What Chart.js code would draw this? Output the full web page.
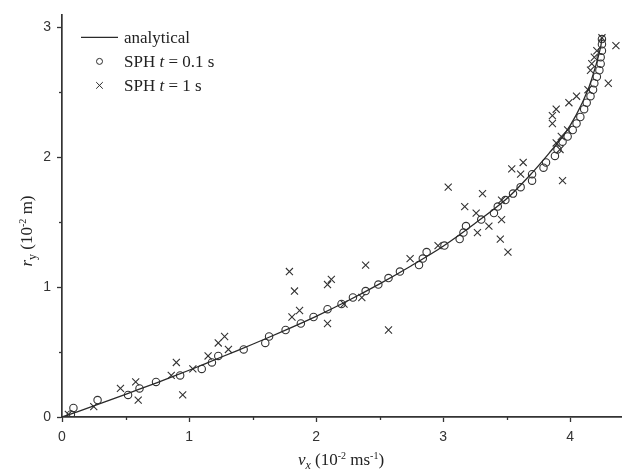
<!DOCTYPE html>
<html><head><meta charset="utf-8">
<script src="https://cdn.jsdelivr.net/npm/chart.js@4.4.0/dist/chart.umd.min.js"></script>
<style>
html,body{margin:0;padding:0;background:#fff;}
#wrap{position:relative;width:629px;height:470px;}
#c{position:absolute;left:0;top:0;}
.t{position:absolute;font-family:"Liberation Serif","Times New Roman",serif;font-size:17px;color:#222;white-space:nowrap;text-align:center;line-height:22px;}
.t sup,.t sub{font-size:10px;position:relative;vertical-align:baseline;line-height:0;}
.t sup{top:-0.65em;}
.t sub{top:0.35em;font-size:12px;}
#xt{left:191px;width:300px;top:449px;}
#yt{left:-33px;width:120px;top:220px;transform:rotate(-90deg);transform-origin:50% 50%;}
</style>
</head><body>
<div id="wrap">
<canvas id="c" width="629" height="470"></canvas>
<div class="t" id="xt"><i>v<sub>x</sub></i> (10<sup>-2</sup> ms<sup>-1</sup>)</div>
<div class="t" id="yt"><i>r</i><sub>y</sub> (10<sup>-2</sup> m)</div>
</div>
<script>
// Analytical curve
const analyticX = [0, 0.25, 0.5, 0.75, 1.0, 1.25, 1.5, 1.75, 2.0, 2.25, 2.5, 2.75, 3.0, 3.25, 3.5, 3.7, 3.85, 3.95, 4.05, 4.14, 4.2, 4.24, 4.25];
const analyticY = [0, 0.085, 0.175, 0.265, 0.36, 0.46, 0.56, 0.665, 0.775, 0.895, 1.025, 1.165, 1.315, 1.49, 1.68, 1.88, 2.05, 2.17, 2.33, 2.52, 2.7, 2.85, 2.92];

// SPH t = 0.1 s (circles)
const sph01X = [0.07,0.09,0.28,0.52,0.61,0.74,0.93,1.10,1.18,1.23,1.43,1.60,1.63,1.76,1.88,1.98,2.09,2.20,2.29,2.39,2.49,2.57,2.66,2.81,2.84,2.87,3.01,3.13,3.16,3.18,3.30,3.40,3.43,3.49,3.55,3.61,3.70,3.70,3.79,3.81,3.88,3.90,3.94,3.98,4.02,4.05,4.08,4.11,4.13,4.16,4.18,4.19,4.21,4.23,4.24,4.24,4.25,4.25,4.25];
const sph01Y = [0.02,0.07,0.13,0.17,0.22,0.27,0.32,0.37,0.42,0.47,0.52,0.57,0.62,0.67,0.72,0.77,0.83,0.87,0.92,0.97,1.02,1.07,1.12,1.17,1.22,1.27,1.32,1.37,1.42,1.47,1.52,1.57,1.62,1.67,1.72,1.77,1.82,1.87,1.92,1.96,2.01,2.06,2.12,2.16,2.21,2.26,2.31,2.37,2.42,2.47,2.52,2.57,2.62,2.67,2.72,2.77,2.82,2.87,2.91];

// SPH t = 1 s (crosses)
const sph1X = [0.05,0.25,0.46,0.58,0.60,0.86,0.90,0.95,1.03,1.15,1.23,1.28,1.31,1.79,1.81,1.83,1.87,2.09,2.09,2.12,2.22,2.36,2.39,2.57,2.74,2.96,3.04,3.17,3.26,3.27,3.31,3.36,3.45,3.46,3.46,3.51,3.54,3.61,3.63,3.86,3.86,3.89,3.89,3.92,3.93,3.94,3.98,3.99,4.05,4.14,4.16,4.17,4.19,4.21,4.25,4.30,4.36];
const sph1Y = [0.02,0.08,0.22,0.27,0.13,0.32,0.42,0.17,0.37,0.47,0.57,0.62,0.52,1.12,0.77,0.97,0.82,0.72,1.02,1.06,0.87,0.92,1.17,0.67,1.22,1.32,1.77,1.62,1.57,1.42,1.72,1.47,1.37,1.52,1.67,1.27,1.91,1.87,1.96,2.26,2.32,2.37,2.11,2.06,2.16,1.82,2.21,2.42,2.47,2.52,2.67,2.72,2.77,2.82,2.92,2.57,2.86];

const legendLabels = ["analytical", ["SPH ", "t", " = 0.1 s"], ["SPH ", "t", " = 1 s"]];

const zip = (xs, ys) => xs.map((x, i) => ({x: x, y: ys[i]}));
const INK = '#2a2a2a';

const minorTicks = {
  id: 'minorTicks',
  afterDraw(chart) {
    const ctx = chart.ctx, xs = chart.scales.x, ys = chart.scales.y, ca = chart.chartArea;
    ctx.save();
    ctx.strokeStyle = '#333';
    ctx.lineWidth = 1.3;
    xs.ticks.forEach(t => {
      if (!Number.isInteger(t.value)) {
        const p = Math.round(xs.getPixelForValue(t.value)) + 0.5;
        ctx.beginPath(); ctx.moveTo(p, ca.bottom); ctx.lineTo(p, ca.bottom + 3); ctx.stroke();
      }
    });
    ys.ticks.forEach(t => {
      if (!Number.isInteger(t.value)) {
        const p = Math.round(ys.getPixelForValue(t.value)) + 0.5;
        ctx.beginPath(); ctx.moveTo(ca.left - 3, p); ctx.lineTo(ca.left, p); ctx.stroke();
      }
    });
    // legend
    const lx = ca.left + 19, tx = ca.left + 62;
    const rows = [ca.top + 29, ca.top + 53, ca.top + 77];
    ctx.strokeStyle = INK; ctx.lineWidth = 1.2;
    ctx.beginPath(); ctx.moveTo(lx, rows[0] - 6); ctx.lineTo(lx + 37, rows[0] - 6); ctx.stroke();
    ctx.lineWidth = 1;
    ctx.beginPath(); ctx.arc(lx + 18.5, rows[1] - 6, 3, 0, Math.PI * 2); ctx.stroke();
    const cx = lx + 18.5, cy = rows[2] - 6, h = 3.3;
    ctx.beginPath(); ctx.moveTo(cx - h, cy - h); ctx.lineTo(cx + h, cy + h);
    ctx.moveTo(cx + h, cy - h); ctx.lineTo(cx - h, cy + h); ctx.stroke();
    ctx.fillStyle = '#222';
    ctx.textBaseline = 'alphabetic';
    const normal = '17px "Liberation Serif", serif', ital = 'italic 17px "Liberation Serif", serif';
    legendLabels.forEach((lab, i) => {
      let x = tx;
      const parts = Array.isArray(lab) ? lab : [lab];
      parts.forEach((s, j) => {
        ctx.font = (parts.length === 3 && j === 1) ? ital : normal;
        ctx.fillText(s, x, rows[i]);
        x += ctx.measureText(s).width;
      });
    });
    ctx.restore();
  }
};

const tickFont = {family: '"Liberation Sans", Arial, sans-serif', size: 14};

new Chart(document.getElementById('c'), {
  type: 'scatter',
  data: {
    datasets: [
      {label: 'analytical', data: zip(analyticX, analyticY), showLine: true, pointRadius: 0, borderColor: INK, borderWidth: 1.3, tension: 0.3, fill: false},
      {label: 'SPH t = 0.1 s', data: zip(sph01X, sph01Y), showLine: false, pointStyle: 'circle', pointRadius: 3.7, borderColor: '#333', borderWidth: 1.1, backgroundColor: 'rgba(0,0,0,0)'},
      {label: 'SPH t = 1 s', data: zip(sph1X, sph1Y), showLine: false, pointStyle: 'crossRot', pointRadius: 5, borderColor: '#333', borderWidth: 1.1, backgroundColor: 'rgba(0,0,0,0)'}
    ]
  },
  options: {
    responsive: false,
    animation: false,
    layout: {padding: {left: 0, right: 8, top: 6, bottom: 0}},
    plugins: {legend: {display: false}, tooltip: {enabled: false}},
    scales: {
      x: {
        type: 'linear', min: 0, max: 4.4,
        afterFit: s => { s.height = 53; },
        border: {display: true, color: '#333', width: 1.7},
        grid: {drawOnChartArea: false, drawTicks: true, tickLength: 5,
               tickColor: c => Number.isInteger(c.tick.value) ? '#333' : 'rgba(0,0,0,0)', tickWidth: 1.3},
        ticks: {stepSize: 0.5, includeBounds: false, autoSkip: false, maxRotation: 0, padding: 7, color: '#333', font: tickFont,
                callback: v => Number.isInteger(v) ? String(v) : ''}
      },
      y: {
        type: 'linear', min: 0, max: 3.1,
        afterFit: s => { s.width = 62; },
        border: {display: true, color: '#333', width: 1.7},
        grid: {drawOnChartArea: false, drawTicks: true, tickLength: 5,
               tickColor: c => Number.isInteger(c.tick.value) ? '#333' : 'rgba(0,0,0,0)', tickWidth: 1.3},
        ticks: {stepSize: 0.5, includeBounds: false, autoSkip: false, padding: 6, color: '#333', font: tickFont,
                callback: v => Number.isInteger(v) ? String(v) : ''}
      }
    }
  },
  plugins: [minorTicks]
});
</script>
</body></html>
